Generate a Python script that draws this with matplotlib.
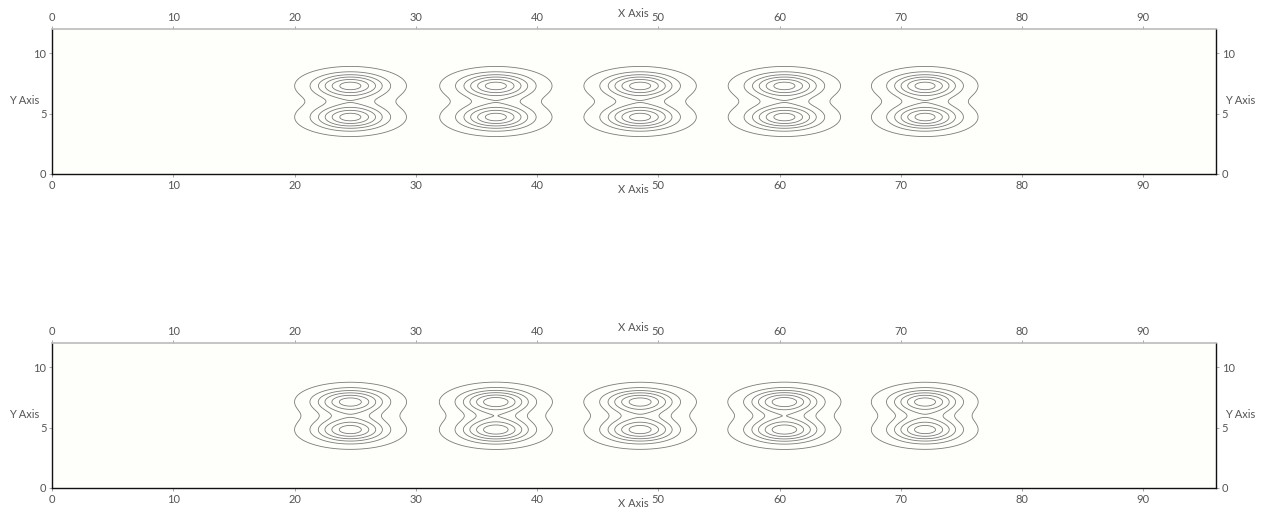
import numpy as np
import matplotlib
matplotlib.use("Agg")
import matplotlib.pyplot as plt

# blob data (x centre, lobe y-positions, widths, strengths)
blob_x = [24.6, 36.6, 48.5, 60.4, 72.0]
blob_sx = [3.15, 3.15, 3.15, 3.15, 3.0]
top_lobes = [7.3, 4.7]
bottom_lobes = [7.15, 4.8]
top_amp = [1.0, 1.0, 1.0, 1.0, 1.0]
bottom_amp = [1.0, 1.02, 1.0, 1.02, 1.0]
lobe_sy = 1.1
levels = [0.12, 0.33, 0.5, 0.65, 0.8, 0.93]

x_ticks = [0, 10, 20, 30, 40, 50, 60, 70, 80, 90]
y_ticks = [0, 5, 10]

xg = np.linspace(0, 96, 961)
yg = np.linspace(0, 12, 241)
X, Y = np.meshgrid(xg, yg)


def field(lobes, amps):
    Z = np.zeros_like(X)
    for xc, sx, a in zip(blob_x, blob_sx, amps):
        for yc in lobes:
            Z += a * np.exp(-((X - xc) / sx) ** 2 - ((Y - yc) / lobe_sy) ** 2)
    return Z


plt.rcParams['font.family'] = ['Lato', 'DejaVu Sans']
fig = plt.figure(figsize=(12.7, 5.14), dpi=100)
fig.patch.set_facecolor('white')

panels = [
    ([0.041, 0.6615, 0.9165, 0.2821], field(top_lobes, top_amp)),
    ([0.041, 0.0506, 0.9165, 0.2821], field(bottom_lobes, bottom_amp)),
]

for pos, Z in panels:
    ax = fig.add_axes(pos)
    ax.set_facecolor('#fefefa')
    ax.contour(X, Y, Z, levels=levels, colors='#7a7a7a', linewidths=0.6)
    ax.set_xlim(0, 96)
    ax.set_ylim(0, 12)
    ax.set_xticks(x_ticks)
    ax.set_yticks(y_ticks)
    ax.tick_params(axis='both', which='both', length=2, width=0.6, color='#999999',
                   labelsize=8, labelcolor='#555555', pad=2,
                   top=True, right=True, labeltop=True, labelright=True)
    for side in ['left', 'bottom', 'right']:
        ax.spines[side].set_color('#111111')
        ax.spines[side].set_linewidth(1.0)
    ax.spines['top'].set_color('#bbbbbb')
    ax.spines['top'].set_linewidth(1.2)

    ax.text(0.499, 1.11, 'X Axis', transform=ax.transAxes, ha='center', va='center',
            fontsize=8, color='#555555')
    ax.text(0.499, -0.11, 'X Axis', transform=ax.transAxes, ha='center', va='center',
            fontsize=8, color='#555555')
    ax.text(-0.024, 0.51, 'Y Axis', transform=ax.transAxes, ha='center', va='center',
            fontsize=8, color='#555555')
    ax.text(1.021, 0.51, 'Y Axis', transform=ax.transAxes, ha='center', va='center',
            fontsize=8, color='#555555')

fig.savefig('out.png', dpi=100)
